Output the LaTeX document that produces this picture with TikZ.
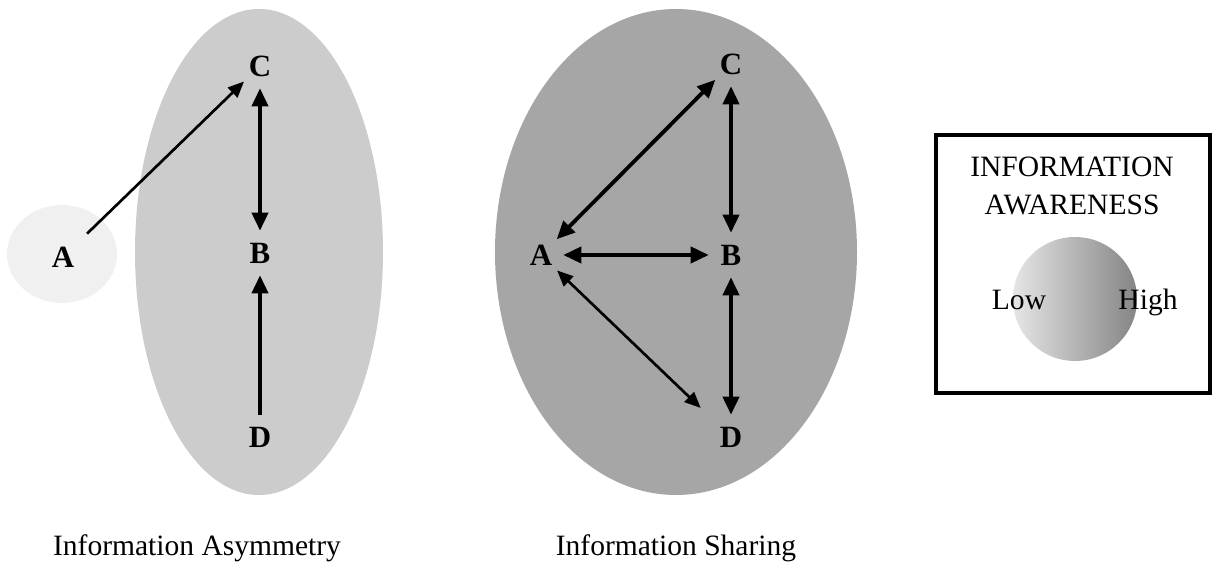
\documentclass[tikz,border=0pt]{standalone}
\usepackage{fontspec}
\setmainfont{Liberation Serif}
\usetikzlibrary{arrows.meta}
\tikzset{
  agent/.style={circle,inner sep=0pt,minimum size=1.1cm,
    font=\fontsize{22}{24}\selectfont\bfseries},
  caption/.style={font=\fontsize{21}{27}\selectfont,align=center},
  link/.style={line width=2.7pt},
  thinlink/.style={line width=1.9pt}
}
\begin{document}
\begin{tikzpicture}[x=0.025cm,y=-0.025cm,
  >={Triangle[length=0.45cm,width=0.4cm]}]
 \useasboundingbox (0,0) rectangle (1213,569);
 % information asymmetry
 \fill[black!20] (259,252) ellipse [x radius=124,y radius=243];
 \fill[black!6] (62,254) ellipse [x radius=55,y radius=49];
 \node[agent] (lA) at (63,257) {A};
 \node[agent] (lC) at (260,66) {C};
 \node[agent] (lB) at (260,253) {B};
 \node[agent] (lD) at (260,437) {D};
 \draw[thinlink,-{Triangle[length=0.4cm,width=0.34cm]},shorten <=8pt] (lA) -- (lC);
 \draw[link,<->] (lC) -- (lB);
 \draw[link,<-] (lB) -- (lD);
 \node[caption] (asym) at (197,548) {Information Asymmetry};
 % information sharing
 \fill[black!35] (676,252) ellipse [x radius=181,y radius=243];
 \node[agent] (rA) at (541,255) {A};
 \node[agent] (rC) at (731,64) {C};
 \node[agent] (rB) at (731,255) {B};
 \node[agent] (rD) at (731,437) {D};
 \draw[link,<->] (rC) -- (rA);
 \draw[link,<->] (rA) -- (rB);
 \draw[thinlink,{Triangle[length=0.4cm,width=0.34cm]}-{Triangle[length=0.4cm,width=0.34cm]},
   shorten >=14pt] (rA) -- (rD);
 \draw[link,<->] (rC) -- (rB);
 \draw[link,<->] (rB) -- (rD);
 \node[caption] (share) at (676,548) {Information Sharing};
 % legend
 \draw[line width=2.6pt] (936,135) rectangle (1210,393);
 \node[caption] (aware) at (1072,186) {INFORMATION\\AWARENESS};
 \shade[left color=black!10,right color=black!48] (1075,299) circle [radius=62];
 \node[caption,anchor=base] (low) at (1019,310) {Low};
 \node[caption,anchor=base] (high) at (1148,310) {High};
\end{tikzpicture}
\end{document}
